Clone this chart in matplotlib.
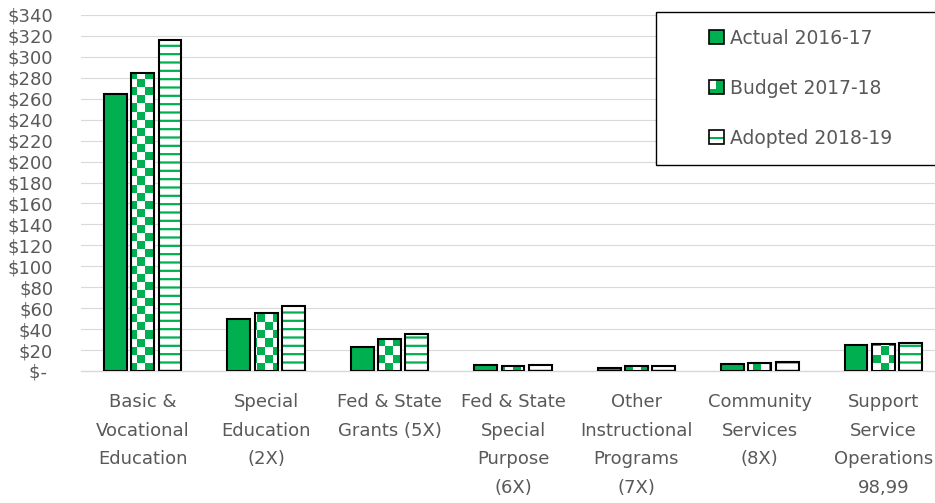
import numpy as np
import matplotlib
matplotlib.use("Agg")
import matplotlib.pyplot as plt
from matplotlib.patches import Rectangle
from matplotlib.colors import ListedColormap
from matplotlib.legend_handler import HandlerBase

GREEN = "#00B050"
GREY = "#595959"

categories = ["Basic &\nVocational\nEducation", "Special\nEducation\n(2X)",
              "Fed & State\nGrants (5X)", "Fed & State\nSpecial\nPurpose\n(6X)",
              "Other\nInstructional\nPrograms\n(7X)", "Community\nServices\n(8X)",
              "Support\nService\nOperations\n98,99"]
actual = [265, 50, 23, 5.5, 3, 7, 24.5]
budget = [285, 55, 31, 5, 5, 7.5, 25.5]
adopted = [316, 62, 35, 6, 4.5, 9, 27]
series_names = ["Actual 2016-17", "Budget 2017-18", "Adopted 2018-19"]
yticks = list(range(0, 341, 20))

plt.rcParams['font.family'] = ['DejaVu Sans']
plt.rcParams['hatch.linewidth'] = 1.6


class Swatch(HandlerBase):
    """Small square legend key that mimics the bar fill."""
    def __init__(self, kind):
        super().__init__()
        self.kind = kind

    def create_artists(self, legend, orig_handle, xdescent, ydescent,
                       width, height, fontsize, trans):
        s = height
        x0 = -xdescent + width - s
        y0 = -ydescent
        face = GREEN if self.kind == "solid" else "white"
        parts = [Rectangle((x0, y0), s, s, facecolor=face, edgecolor="none", transform=trans)]
        if self.kind == "checker":
            parts.append(Rectangle((x0 + s / 2, y0), s / 2, s, facecolor=GREEN,
                                   edgecolor="none", transform=trans))
            parts.append(Rectangle((x0, y0), s / 2, s * 0.35, facecolor=GREEN,
                                   edgecolor="none", transform=trans))
        elif self.kind == "stripes":
            parts.append(Rectangle((x0, y0 + s * 0.38), s, s * 0.16, facecolor=GREEN,
                                   edgecolor="none", transform=trans))
        parts.append(Rectangle((x0, y0), s, s, fill=False, edgecolor="black",
                               linewidth=1.2, transform=trans))
        return parts


fig = plt.figure(figsize=(9.35, 5.03), dpi=100)
ax = fig.add_axes([81 / 935, 132 / 503, 864 / 935, 356 / 503])

x = np.arange(len(categories))
w = 0.186
step = 0.221

# solid bars
ax.bar(x - step, actual, w, color=GREEN, edgecolor="black", linewidth=1.5, zorder=3)

# checkerboard bars: white base, checker image clipped to each bar, outline on top
base = ax.bar(x, budget, w, color="white", linewidth=0, zorder=2)
checker = np.add.outer(np.arange(44), np.arange(108)) % 2
for rect in base:
    im = ax.imshow(checker, extent=(0, 1, 0, 1), transform=ax.transAxes,
                   cmap=ListedColormap(["white", GREEN]), interpolation="nearest",
                   aspect="auto", zorder=2.5)
    im.set_clip_path(rect)
ax.bar(x, budget, w, fill=False, edgecolor="black", linewidth=1.5, zorder=3)

# horizontal stripe bars
ax.bar(x + step, adopted, w, color="white", edgecolor=GREEN, hatch="--",
       linewidth=0, zorder=2)
ax.bar(x + step, adopted, w, fill=False, edgecolor="black", linewidth=1.5, zorder=3)

ax.set_xlim(-0.5, len(categories) - 0.5)
ax.set_ylim(0, 340)
ax.set_yticks(yticks)
ax.set_yticklabels(["\\$- " if v == 0 else f"\\${v}" for v in yticks])
ax.set_xticks(x)
ax.set_xticklabels(categories)
for lbl in ax.get_xticklabels():
    lbl.set_linespacing(1.75)

ax.yaxis.grid(True, color="#D9D9D9", linewidth=0.8)
ax.set_axisbelow(True)
for side in ["left", "top", "right"]:
    ax.spines[side].set_visible(False)
ax.spines["bottom"].set_color("#D9D9D9")
ax.spines["bottom"].set_linewidth(1.0)
ax.tick_params(axis="both", length=0, labelcolor=GREY, labelsize=13)
ax.tick_params(axis="x", pad=16)
ax.tick_params(axis="y", pad=20)

handles = [Rectangle((0, 0), 1, 1) for _ in series_names]
kinds = ["solid", "checker", "stripes"]
leg = ax.legend(handles, series_names,
                handler_map={h: Swatch(k) for h, k in zip(handles, kinds)},
                loc="upper left", bbox_to_anchor=(656 / 935, 491 / 503, 0.35, 0),
                bbox_transform=fig.transFigure, mode="expand", borderaxespad=0,
                fontsize=13.5, labelcolor=GREY, frameon=True, fancybox=False,
                edgecolor="black", framealpha=1, handlelength=2.7, handleheight=0.78,
                handletextpad=0.35, labelspacing=1.65, borderpad=0.9)
leg.get_frame().set_linewidth(1.0)

fig.savefig("out.png", dpi=100)
